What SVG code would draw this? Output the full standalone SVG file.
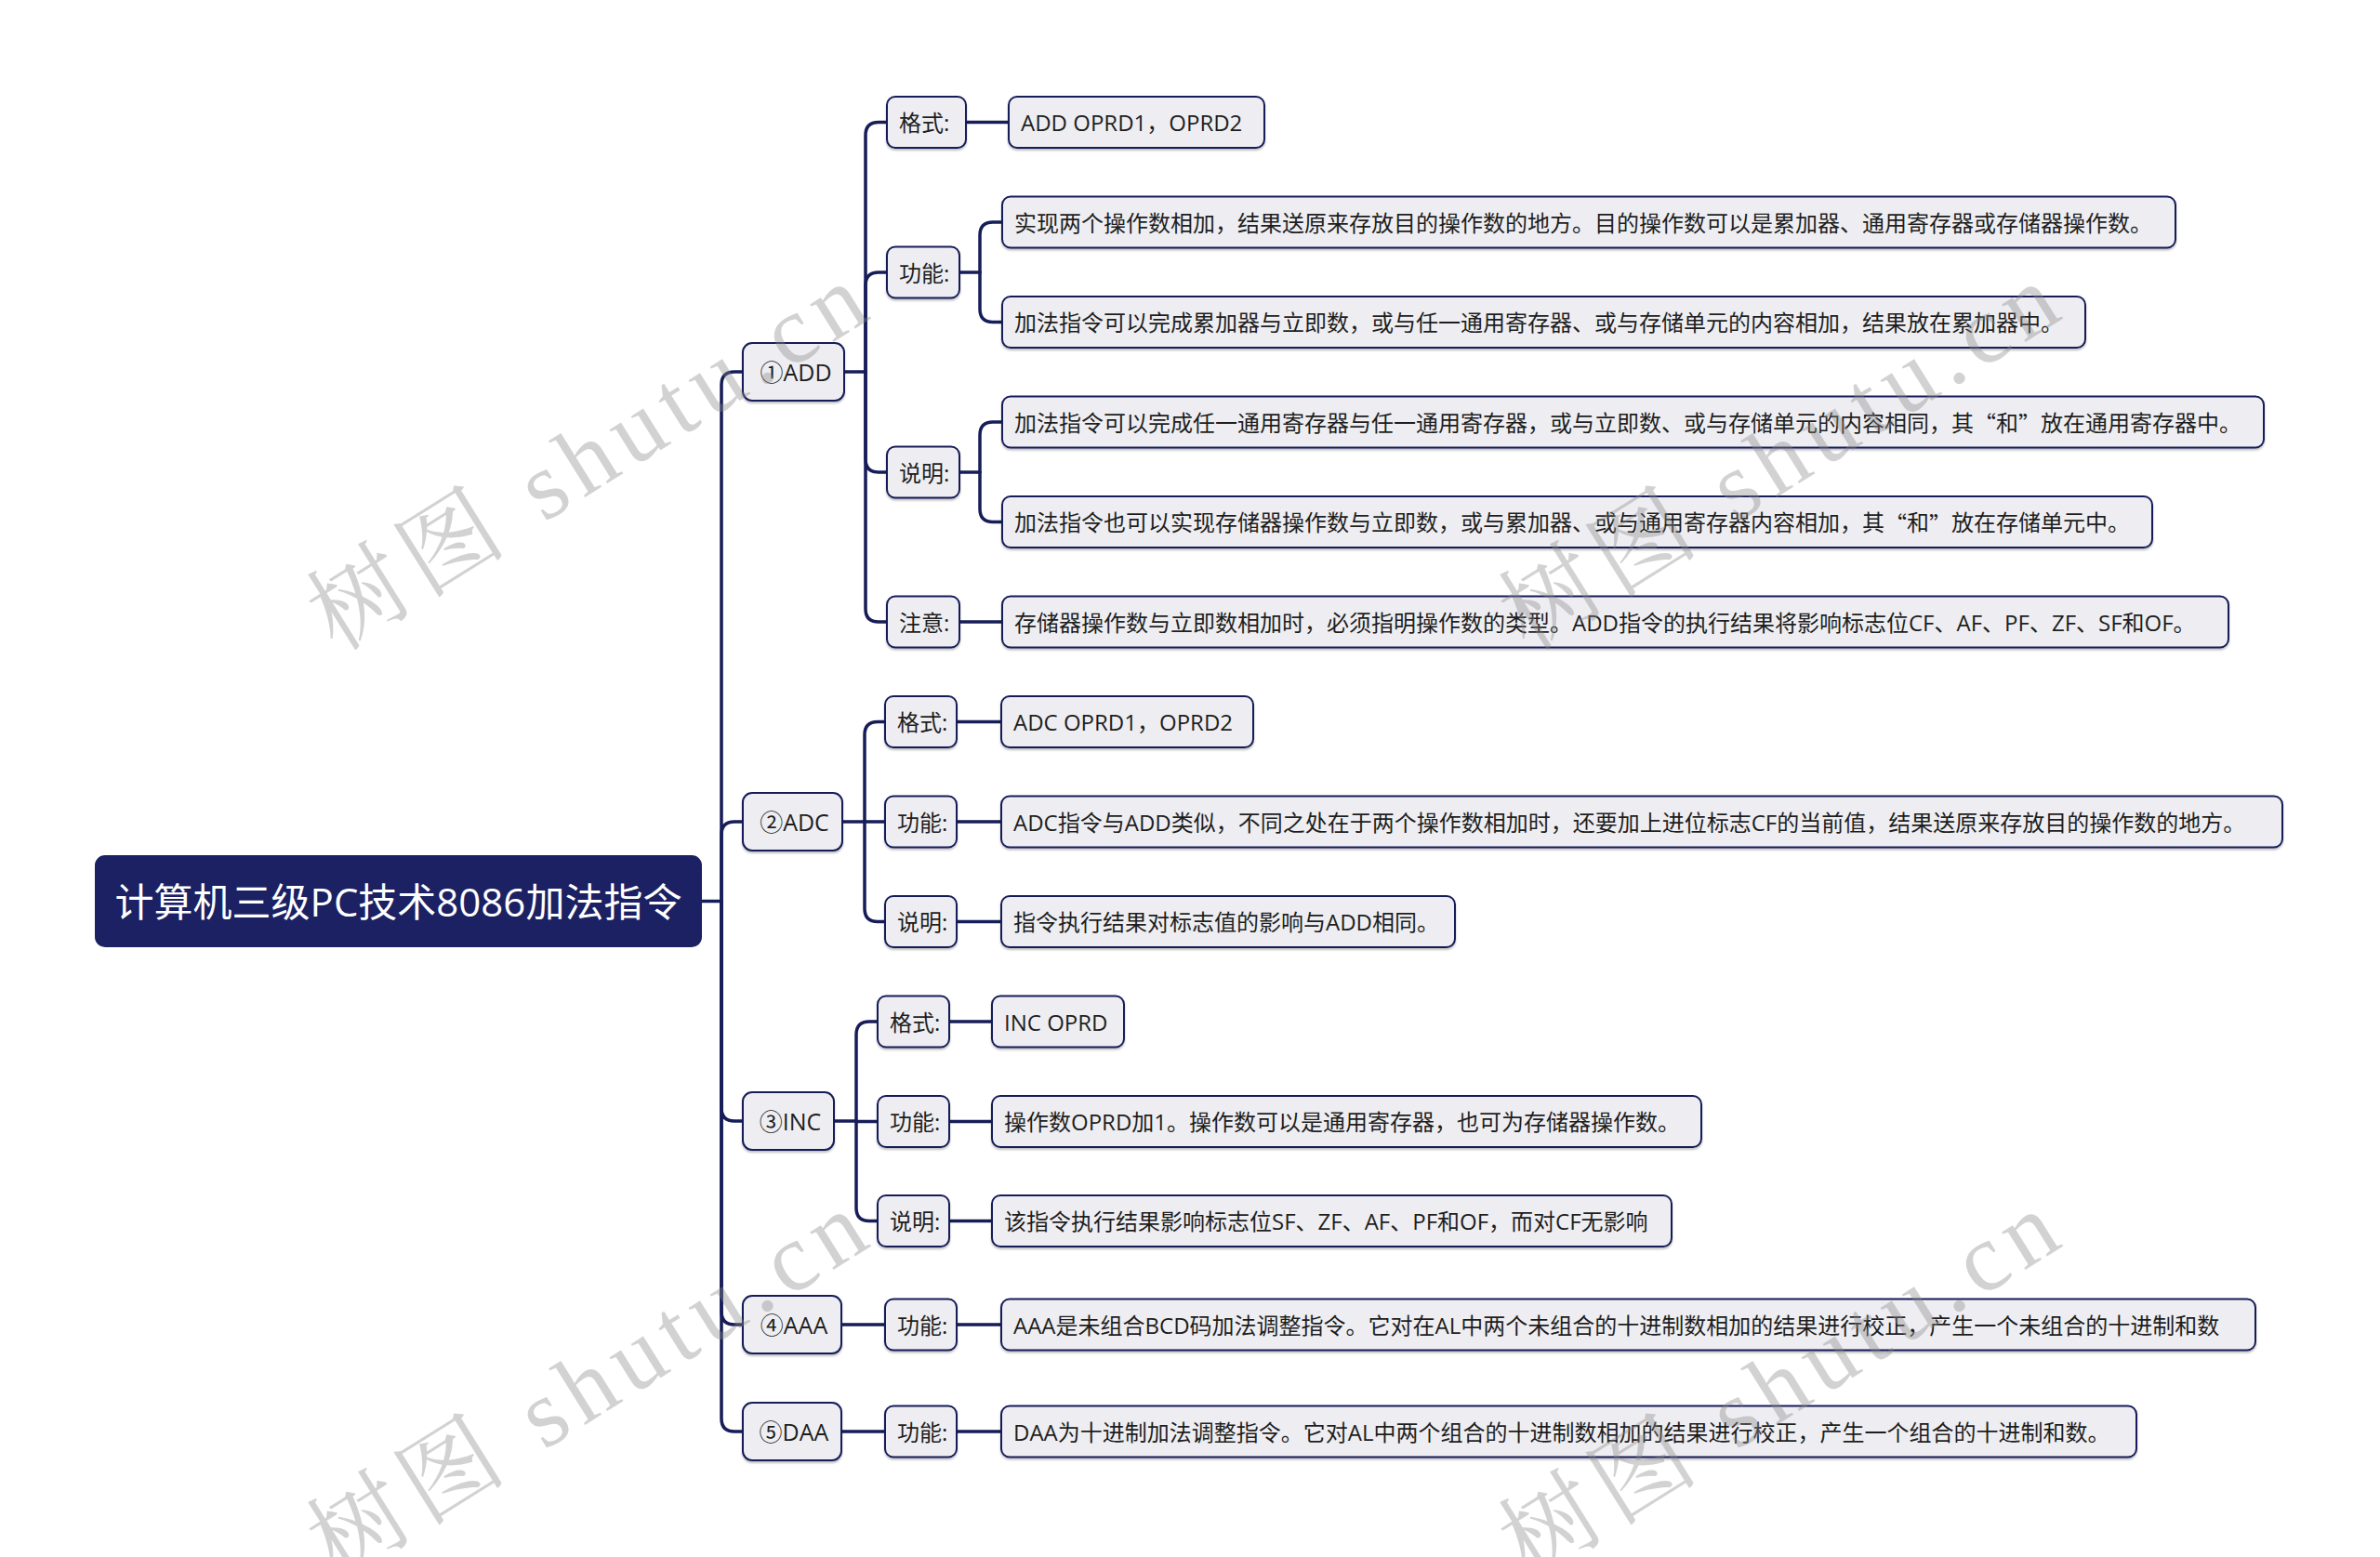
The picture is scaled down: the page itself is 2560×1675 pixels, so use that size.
<svg xmlns="http://www.w3.org/2000/svg" width="2560" height="1675" viewBox="0 0 2560 1675">
<defs>
<style>
.n rect{fill:#eeeef2;stroke:#161d58;stroke-width:2;filter:url(#sh)}
.t{font-family:"Open Sans","Noto Sans CJK SC",sans-serif;font-size:24px;fill:#1e1e1e;dominant-baseline:central}
.q{font-family:"Noto Sans CJK SC",sans-serif}
.l1{font-size:25px;text-anchor:middle}
.root rect{fill:#1b2163;stroke:#1b2163;stroke-width:2}
.root text{fill:#ffffff;font-size:42px;text-anchor:middle}
.c path{fill:none;stroke:#161d58;stroke-width:3.5;stroke-linecap:round;stroke-linejoin:round}
.wm{font-family:"Liberation Serif","Noto Serif CJK SC","Noto Sans CJK SC",serif;font-size:104px;fill:#8a8a8a;fill-opacity:0.38}
</style>
<filter id="sh" x="-5%" y="-20%" width="110%" height="150%">
<feDropShadow dx="0" dy="2" stdDeviation="1.2" flood-color="#000" flood-opacity="0.25"/>
</filter>
</defs>
<rect width="2560" height="1675" fill="#ffffff"/>

<g class="c" id="connectors">
<path d="M754,969.5 H776"/>
<path d="M776,969.5 V414 Q776,400 790,400 H799"/>
<path d="M776,969.5 V898 Q776,884 790,884 H799"/>
<path d="M776,969.5 V1192 Q776,1206 790,1206 H799"/>
<path d="M776,969.5 V1411 Q776,1425 790,1425 H799"/>
<path d="M776,969.5 V1526 Q776,1540 790,1540 H799"/>
<path d="M908,400 H931"/>
<path d="M931,400 V145.5 Q931,131.5 945,131.5 H954"/>
<path d="M931,400 V307 Q931,293 945,293 H954"/>
<path d="M931,400 V494 Q931,508 945,508 H954"/>
<path d="M931,400 V655 Q931,669 945,669 H954"/>
<path d="M1039,131.5 H1085"/>
<path d="M1032,293 H1054"/>
<path d="M1054,293 V253 Q1054,239 1068,239 H1078"/>
<path d="M1054,293 V332.5 Q1054,346.5 1068,346.5 H1078"/>
<path d="M1032,508 H1054"/>
<path d="M1054,508 V468 Q1054,454 1068,454 H1078"/>
<path d="M1054,508 V547.5 Q1054,561.5 1068,561.5 H1078"/>
<path d="M1032,669 H1078"/>
<path d="M906,884 H930"/>
<path d="M930,884 V790.5 Q930,776.5 944,776.5 H952"/>
<path d="M930,884 H952"/>
<path d="M930,884 V977.5 Q930,991.5 944,991.5 H952"/>
<path d="M1029,776.5 H1077"/>
<path d="M1029,884 H1077"/>
<path d="M1029,991.5 H1077"/>
<path d="M897,1206 H921"/>
<path d="M921,1206 V1113 Q921,1099 935,1099 H944"/>
<path d="M921,1206 V1206.5 H944"/>
<path d="M921,1206 V1299.5 Q921,1313.5 935,1313.5 H944"/>
<path d="M1021,1099 H1067"/>
<path d="M1021,1206.5 H1067"/>
<path d="M1021,1313.5 H1067"/>
<path d="M905,1425 H952"/>
<path d="M1029,1425 H1077"/>
<path d="M905,1540 H952"/>
<path d="M1029,1540 H1077"/>
</g>

<g class="root" id="root">
<rect x="103" y="921" width="651" height="97" rx="10"/>
<text class="t" x="428.5" y="969.5">计算机三级PC技术8086加法指令</text>
</g>

<g class="n" id="n-add"><rect x="799" y="369" width="109" height="62" rx="10"/><text class="t l1" x="856" y="400">①ADD</text></g>
<g class="n" id="n-adc"><rect x="799" y="853" width="107" height="62" rx="10"/><text class="t l1" x="854.5" y="884">②ADC</text></g>
<g class="n" id="n-inc"><rect x="799" y="1175" width="98" height="62" rx="10"/><text class="t l1" x="850" y="1206">③INC</text></g>
<g class="n" id="n-aaa"><rect x="799" y="1394" width="106" height="62" rx="10"/><text class="t l1" x="854" y="1425">④AAA</text></g>
<g class="n" id="n-daa"><rect x="799" y="1509" width="106" height="62" rx="10"/><text class="t l1" x="854" y="1540">⑤DAA</text></g>

<g class="n" id="n-add-fmt"><rect x="954" y="104" width="85" height="55" rx="9"/><text class="t" x="967" y="131.5">格式:</text></g>
<g class="n" id="n-add-fmt-v"><rect x="1085" y="104" width="275" height="55" rx="9"/><text class="t" x="1098" y="131.5">ADD OPRD1，OPRD2</text></g>
<g class="n" id="n-add-fn"><rect x="954" y="265.5" width="78" height="55" rx="9"/><text class="t" x="967" y="293">功能:</text></g>
<g class="n" id="n-add-fn-1"><rect x="1078" y="211.5" width="1262" height="55" rx="9"/><text class="t" x="1091" y="239">实现两个操作数相加，结果送原来存放目的操作数的地方。目的操作数可以是累加器、通用寄存器或存储器操作数。</text></g>
<g class="n" id="n-add-fn-2"><rect x="1078" y="319" width="1165" height="55" rx="9"/><text class="t" x="1091" y="346.5">加法指令可以完成累加器与立即数，或与任一通用寄存器、或与存储单元的内容相加，结果放在累加器中。</text></g>
<g class="n" id="n-add-note"><rect x="954" y="480.5" width="78" height="55" rx="9"/><text class="t" x="967" y="508">说明:</text></g>
<g class="n" id="n-add-note-1"><rect x="1078" y="426.5" width="1357" height="55" rx="9"/><text class="t" x="1091" y="454">加法指令可以完成任一通用寄存器与任一通用寄存器，或与立即数、或与存储单元的内容相同，其<tspan class="q">“</tspan>和<tspan class="q">”</tspan>放在通用寄存器中。</text></g>
<g class="n" id="n-add-note-2"><rect x="1078" y="534" width="1237" height="55" rx="9"/><text class="t" x="1091" y="561.5">加法指令也可以实现存储器操作数与立即数，或与累加器、或与通用寄存器内容相加，其<tspan class="q">“</tspan>和<tspan class="q">”</tspan>放在存储单元中。</text></g>
<g class="n" id="n-add-warn"><rect x="954" y="641.5" width="78" height="55" rx="9"/><text class="t" x="967" y="669">注意:</text></g>
<g class="n" id="n-add-warn-v"><rect x="1078" y="641.5" width="1319" height="55" rx="9"/><text class="t" x="1091" y="669">存储器操作数与立即数相加时，必须指明操作数的类型。ADD指令的执行结果将影响标志位CF、AF、PF、ZF、SF和OF。</text></g>

<g class="n" id="n-adc-fmt"><rect x="952" y="749" width="77" height="55" rx="9"/><text class="t" x="965" y="776.5">格式:</text></g>
<g class="n" id="n-adc-fmt-v"><rect x="1077" y="749" width="271" height="55" rx="9"/><text class="t" x="1090" y="776.5">ADC OPRD1，OPRD2</text></g>
<g class="n" id="n-adc-fn"><rect x="952" y="856.5" width="77" height="55" rx="9"/><text class="t" x="965" y="884">功能:</text></g>
<g class="n" id="n-adc-fn-v"><rect x="1077" y="856.5" width="1378" height="55" rx="9"/><text class="t" x="1090" y="884">ADC指令与ADD类似，不同之处在于两个操作数相加时，还要加上进位标志CF的当前值，结果送原来存放目的操作数的地方。</text></g>
<g class="n" id="n-adc-note"><rect x="952" y="964" width="77" height="55" rx="9"/><text class="t" x="965" y="991.5">说明:</text></g>
<g class="n" id="n-adc-note-v"><rect x="1077" y="964" width="488" height="55" rx="9"/><text class="t" x="1090" y="991.5">指令执行结果对标志值的影响与ADD相同。</text></g>

<g class="n" id="n-inc-fmt"><rect x="944" y="1071.5" width="77" height="55" rx="9"/><text class="t" x="957" y="1099">格式:</text></g>
<g class="n" id="n-inc-fmt-v"><rect x="1067" y="1071.5" width="142" height="55" rx="9"/><text class="t" x="1080" y="1099">INC OPRD</text></g>
<g class="n" id="n-inc-fn"><rect x="944" y="1179" width="77" height="55" rx="9"/><text class="t" x="957" y="1206.5">功能:</text></g>
<g class="n" id="n-inc-fn-v"><rect x="1067" y="1179" width="763" height="55" rx="9"/><text class="t" x="1080" y="1206.5">操作数OPRD加1。操作数可以是通用寄存器，也可为存储器操作数。</text></g>
<g class="n" id="n-inc-note"><rect x="944" y="1286" width="77" height="55" rx="9"/><text class="t" x="957" y="1313.5">说明:</text></g>
<g class="n" id="n-inc-note-v"><rect x="1067" y="1286" width="731" height="55" rx="9"/><text class="t" x="1080" y="1313.5">该指令执行结果影响标志位SF、ZF、AF、PF和OF，而对CF无影响</text></g>

<g class="n" id="n-aaa-fn"><rect x="952" y="1397.5" width="77" height="55" rx="9"/><text class="t" x="965" y="1425">功能:</text></g>
<g class="n" id="n-aaa-fn-v"><rect x="1077" y="1397.5" width="1349" height="55" rx="9"/><text class="t" x="1090" y="1425">AAA是未组合BCD码加法调整指令。它对在AL中两个未组合的十进制数相加的结果进行校正，产生一个未组合的十进制和数</text></g>

<g class="n" id="n-daa-fn"><rect x="952" y="1512.5" width="77" height="55" rx="9"/><text class="t" x="965" y="1540">功能:</text></g>
<g class="n" id="n-daa-fn-v"><rect x="1077" y="1512.5" width="1221" height="55" rx="9"/><text class="t" x="1090" y="1540">DAA为十进制加法调整指令。它对AL中两个组合的十进制数相加的结果进行校正，产生一个组合的十进制和数。</text></g>

<g id="watermarks">
<text class="wm" transform="translate(362,702) rotate(-32)" textLength="680" lengthAdjust="spacing">树图 shutu.cn</text>
<text class="wm" transform="translate(1644,702) rotate(-32)" textLength="680" lengthAdjust="spacing">树图 shutu.cn</text>
<text class="wm" transform="translate(362,1700) rotate(-32)" textLength="680" lengthAdjust="spacing">树图 shutu.cn</text>
<text class="wm" transform="translate(1644,1700) rotate(-32)" textLength="680" lengthAdjust="spacing">树图 shutu.cn</text>
</g>
</svg>
